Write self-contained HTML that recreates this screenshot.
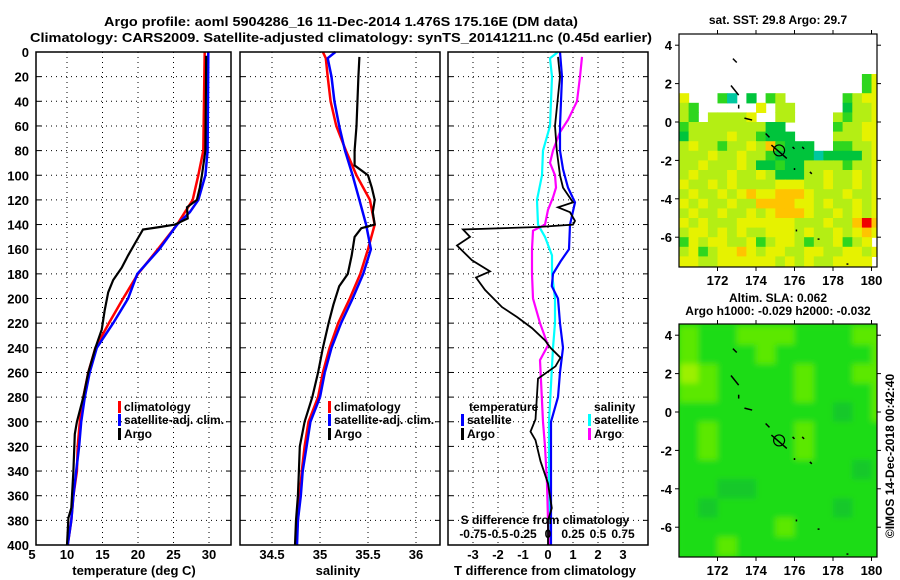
<!DOCTYPE html>
<html><head><meta charset="utf-8">
<style>
html,body{margin:0;padding:0;background:#fff;}
svg{display:block;font-family:"Liberation Sans",Arial,sans-serif;font-weight:bold;}
</style></head>
<body>
<svg id="fig" width="900" height="580" viewBox="0 0 900 580" xmlns="http://www.w3.org/2000/svg">
<text x="341" y="26" font-size="13" text-anchor="middle" textLength="474" lengthAdjust="spacingAndGlyphs">Argo profile: aoml 5904286_16 11-Dec-2014 1.476S 175.16E (DM data)</text>
<text x="341" y="42" font-size="13" text-anchor="middle" textLength="622" lengthAdjust="spacingAndGlyphs">Climatology: CARS2009. Satellite-adjusted climatology: synTS_20141211.nc (0.45d earlier)</text>
<text x="778" y="24" font-size="12" text-anchor="middle">sat. SST: 29.8 Argo: 29.7</text>
<text x="778" y="302" font-size="12" text-anchor="middle">Altim. SLA: 0.062</text>
<text x="778" y="315" font-size="12" text-anchor="middle">Argo h1000: -0.029 h2000: -0.032</text>
<text x="0" y="0" font-size="12" text-anchor="middle" transform="translate(894,456) rotate(-90)">©IMOS 14-Dec-2018 00:42:40</text>
<g id="layer"></g>
</svg>
<script>
// ---- axis ticks ----
const depthTicks=[0,20,40,60,80,100,120,140,160,180,200,220,240,260,280,300,320,340,360,380,400];
const tempTicks=[5,10,15,20,25,30];
const salTicks=[34.5,35,35.5,36];
const dTTicks=[-3,-2,-1,0,1,2,3];
const dSTicks=[-0.75,-0.5,-0.25,0,0.25,0.5,0.75];
const dSTickLabels=['-0.75','-0.5','-0.25','0','0.25','0.5','0.75'];
const lonTicks=[172,174,176,178,180];
const latTicks=[4,2,0,-2,-4,-6];
// ---- temperature profiles ----
const tClimP=[0,80,100,120,130,140,160,180,200,220,240,260,280,300,320,340,360,380,400];
const tClimV=[29.4,29.2,28.5,27.7,26.6,25.5,22.8,20,17.9,15.9,14,13,12.3,11.8,11.5,11.4,10.9,10.6,10.1];
const tSatP=[0,80,100,120,130,140,160,180,200,220,240,260,280,300,320,340,360,380,400];
const tSatV=[29.9,29.8,29.5,28.5,27.3,25.5,23,19.9,18.6,16.5,14.2,13.2,12.5,12,11.7,11.3,10.9,10.6,10.1];
const tArgoP=[3,80,100,110,120,126,135,140,142,144,155,165,175,185,195,210,225,240,260,280,300,310,340,370,378,400];
const tArgoV=[29.6,29.5,29,28.7,28.3,26.9,27,25.2,23.1,20.7,19.6,18.6,17.7,16.5,15.8,15.3,14.9,14,13,12.3,11.4,11.1,10.9,10.6,10.2,10];
// ---- salinity profiles ----
const sClimP=[0,5,20,40,60,80,100,120,140,160,180,200,220,240,260,280,300,320,340,360,380,400];
const sClimV=[35.03,35.06,35.08,35.11,35.17,35.27,35.38,35.52,35.57,35.5,35.42,35.31,35.19,35.1,35.03,34.98,34.88,34.84,34.81,34.79,34.77,34.75];
const sSatP=[0,5,20,40,60,80,100,120,140,160,180,200,220,240,260,280,300,320,340,360,380,400];
const sSatV=[35.16,35.08,35.12,35.15,35.2,35.26,35.34,35.41,35.48,35.53,35.45,35.34,35.22,35.12,35.05,35,34.9,34.86,34.82,34.8,34.77,34.76];
const sArgoP=[4,20,60,80,92,100,110,120,130,140,143,150,165,180,190,205,220,240,260,280,300,320,340,360,380,400];
const sArgoV=[35.41,35.4,35.38,35.36,35.36,35.5,35.54,35.57,35.55,35.57,35.43,35.36,35.33,35.29,35.2,35.14,35.09,35.03,34.98,34.92,34.84,34.79,34.78,34.77,34.75,34.74];
// ---- differences from climatology ----
const dTSatP=[0,20,60,80,95,110,122,140,160,170,180,190,200,220,240,260,280,300,350,400];
const dTSatV=[0.48,0.56,0.48,0.48,0.6,0.8,1.08,0.88,0.84,0.5,0.2,0.15,0.4,0.48,0.6,0.48,0.4,0.12,0.12,0.12];
const dTArgoP=[4,20,60,80,100,110,122,126,130,137,140,142,144,150,157,169,178,183,193,207,215,224,234,240,248,255,265,298,308,315,332,350,370,380,400];
const dTArgoV=[0.4,0.48,0.28,0.35,0.48,0.6,1.0,0.4,0.88,1.08,1.0,-0.4,-3.4,-3.12,-3.64,-3.04,-2.32,-2.88,-2.52,-1.84,-1.24,-0.64,-0.12,0.1,0.5,0.3,-0.4,-0.5,-0.7,-0.5,-0.3,0,0.15,0,0];
const dSSatP=[0,5,20,60,80,100,120,140,150,165,180,200,220,240,300,400];
const dSSatV=[0.1,0.02,0.04,0.02,-0.05,-0.06,-0.11,-0.1,-0.03,0.04,0.04,0.07,0.07,0.05,0.01,0.01];
const dSArgoP=[4,20,40,55,65,80,90,100,110,118,128,140,145,160,180,200,220,238,250,300,320,350,380,400];
const dSArgoV=[0.34,0.32,0.29,0.2,0.12,0.05,0.02,0.07,0.08,0.05,0,-0.03,-0.15,-0.16,-0.16,-0.15,-0.08,0,-0.08,-0.05,-0.03,-0.01,0,0.01];
// ---- SST map cells (0.5 deg; rows from lat 4.5 downward, cols from lon 170) ----
const sstRows=[
".....................",
".....................",
".....................",
".....................",
"...................gy",
"...................gy",
"y...gt.G.gl......glyy",
"lg......y.ll.....Glly",
"lg.lllly..ll....lglly",
"gllllllllGG.....gllyy",
"GllllyllgGGG....lllyy",
"lyllgllylogGGG..gglly",
"lllyllyllgGGGGtGGGGly",
"llylllylGGgGGllllglly",
"lylllyllylGGGllyllyly",
"yllylyllllyyyllyllyly",
"lyllylyoyyoooylllylly",
"ylyllyllooooyylyllyly",
"lyllyllylyoooyllylyly",
"ylylllyyyyyylllylloro",
"lyylylyllyyylyllylyoy",
"gylyyllyglyylgllygly",
"lyglyyoylyyllyyllyyly",
"yyllyyyyyylylyllyyyy."];
const sstColors={G:"#00c43c",g:"#2ed61e",l:"#b4ee14",y:"#e6f200",o:"#ffc400",r:"#f00000",t:"#00c8a0"};
// ---- SLA map cells (1 deg; rows from lat 4.5 downward, cols from lon 170) ----
const slaRows=["cbbcccbbbcc","cbbbcbbbbbc","dcbbbbcbbcc","ccbbbbcbbbc","bbbbbbbbabc","bcbbbbcbbbb","bcbbbbcbbbb","bbbbbbbbbab","bbaabbbbbbb","babbbbbbabb","bbbbbcbbbbb","bbcbbbbbbbb"];
const slaColors={a:"#12c82a",b:"#1edc14",c:"#5ce806",d:"#9cf000"};
const argoLon=175.2, argoLat=-1.48;

const NS="http://www.w3.org/2000/svg";
const layer=document.getElementById('layer');
function mk(tag,attrs,parent){const e=document.createElementNS(NS,tag);for(const k in attrs)e.setAttribute(k,attrs[k]);(parent||layer).appendChild(e);return e;}

const Y0=52,Y1=545;
const yP=p=>Y0+p*(Y1-Y0)/400;
const xT=t=>67+(t-10)*7.1;
const xS=s=>320+(s-35)*96;
const xD=d=>548+d*25;
const xDS=s=>548+s*100;

function panel(name){
  const g=mk('g',{});
  
  
  return g;
}
function grid(g,x0,x1,xs){
  depthTicks.forEach(p=>{ if(p===0||p===400)return;
    const l=mk('line',{x1:x0,x2:x1,y1:yP(p),y2:yP(p),stroke:'#000','stroke-width':1,'stroke-dasharray':'1,4'},g);
    
    
    mk('line',{x1:x0,x2:x0+5,y1:yP(p),y2:yP(p),stroke:'#000'},g);
    mk('line',{x1:x1-5,x2:x1,y1:yP(p),y2:yP(p),stroke:'#000'},g);
  });
  xs.forEach(x=>{
    const l=mk('line',{x1:x,x2:x,y1:Y0,y2:Y1,stroke:'#000','stroke-width':1,'stroke-dasharray':'1,4'},g);
    
    
  });
}
function frame(g,x0,x1){
  const r=mk('rect',{x:x0,y:Y0,width:x1-x0,height:Y1-Y0,fill:'none',stroke:'#000','stroke-width':1.5},g);
  
  
}
function line(g,P,V,xf,color,w,name){
  const d=P.map((p,i)=>(i?'L':'M')+xf(V[i]).toFixed(1)+','+yP(p).toFixed(1)).join('');
  const e=mk('path',{d:d,fill:'none',stroke:color,'stroke-width':w,'stroke-linejoin':'miter'},g);
  
  
}
function text(g,x,y,s,anchor,size,name){
  const e=mk('text',{x:x,y:y,'font-size':size||12,'text-anchor':anchor||'start'},g);
  e.textContent=s;
  
  
  return e;
}
function legend(g,x,y,color,label,name){
  const m=mk('rect',{x:x,y:y-10,width:3,height:12,fill:color},g);
  
  
  text(g,x+6,y,label,'start',12,name+'-label');
}

// Panel 1: temperature
const g1=panel('temperature-panel');
grid(g1,36,231,tempTicks.filter(t=>t>5).map(xT));
line(g1,tClimP,tClimV,xT,'#ff0000',2.5,'temperature-climatology-line');
line(g1,tSatP,tSatV,xT,'#0000ff',2.5,'temperature-satellite-line');
line(g1,tArgoP,tArgoV,xT,'#000',2.2,'temperature-argo-line');
frame(g1,36,231);
depthTicks.forEach(p=>text(g1,29,yP(p)+5,String(p),'end',13,'depth-tick-label'));
tempTicks.forEach(t=>text(g1,Math.max(xT(t),32),559,String(t),'middle',13,'temperature-tick-label'));
text(g1,134,575,'temperature (deg C)','middle',13,'temperature-axis-title');
legend(g1,118,411,'#ff0000','climatology','temp-legend-climatology');
legend(g1,118,424,'#0000ff','satellite-adj. clim.','temp-legend-satellite');
legend(g1,118,438,'#000','Argo','temp-legend-argo');

// Panel 2: salinity
const g2=panel('salinity-panel');
grid(g2,240,440,salTicks.map(xS));
line(g2,sClimP,sClimV,xS,'#ff0000',2.5,'salinity-climatology-line');
line(g2,sSatP,sSatV,xS,'#0000ff',2.5,'salinity-satellite-line');
line(g2,sArgoP,sArgoV,xS,'#000',2.2,'salinity-argo-line');
frame(g2,240,440);
salTicks.forEach(s=>text(g2,xS(s),559,String(s),'middle',13,'salinity-tick-label'));
text(g2,338,575,'salinity','middle',13,'salinity-axis-title');
legend(g2,328,411,'#ff0000','climatology','sal-legend-climatology');
legend(g2,328,424,'#0000ff','satellite-adj. clim.','sal-legend-satellite');
legend(g2,328,438,'#000','Argo','sal-legend-argo');

// Panel 3: differences
const g3=panel('difference-panel');
grid(g3,448,648,dTTicks.map(xD));
line(g3,dSSatP,dSSatV,xDS,'#00ffff',2.2,'salinity-diff-satellite-line');
line(g3,dSArgoP,dSArgoV,xDS,'#ff00ff',2.2,'salinity-diff-argo-line');
line(g3,dTSatP,dTSatV,xD,'#0000ff',2.2,'temperature-diff-satellite-line');
line(g3,dTArgoP,dTArgoV,xD,'#000',1.8,'temperature-diff-argo-line');
frame(g3,448,648);
dTTicks.forEach(d=>text(g3,xD(d),559,String(d),'middle',13,'t-diff-tick-label'));
text(g3,545,575,'T difference from climatology','middle',13,'t-diff-axis-title');
text(g3,545,524,'S difference from climatology','middle',12,'s-diff-axis-title');
dSTicks.forEach((s,i)=>text(g3,xDS(s),538,dSTickLabels[i],'middle',12,'s-diff-tick-label'));
text(g3,469,411,'temperature','start',12,'diff-legend-temperature-header');
legend(g3,461,424,'#0000ff','satellite','diff-legend-t-satellite');
legend(g3,461,438,'#000','Argo','diff-legend-t-argo');
text(g3,594,411,'salinity','start',12,'diff-legend-salinity-header');
legend(g3,588,424,'#00ffff','satellite','diff-legend-s-satellite');
legend(g3,588,438,'#ff00ff','Argo','diff-legend-s-argo');

// Maps
const lonX=l=>679+(l-170)*19.25;
function mapPanel(name,top,latY,rows,colors,cell,blur){
  const g=panel(name);
  const cid='clip-'+name;
  const cp=mk('clipPath',{id:cid},g);
  mk('rect',{x:679,y:top,width:198,height:233},cp);
  const cells=mk('g',{'clip-path':'url(#'+cid+')'},g);
  if(blur){
    const f=mk('filter',{id:'blur-'+name,x:'-10%',y:'-10%',width:'120%',height:'120%'},g);
    mk('feGaussianBlur',{stdDeviation:blur},f);
    mk('rect',{x:679,y:top,width:198,height:233,fill:colors.b},cells);
  }
  const inner=mk('g',blur?{filter:'url(#blur-'+name+')'}:{},cells);
  rows.forEach((row,r)=>{
    for(let c=0;c<row.length;c++){
      const ch=row[c]; if(!colors[ch])continue;
      const lat=4.5-cell*r, lon=170+cell*c;
      const rc=mk('rect',{x:lonX(lon).toFixed(1),y:latY(lat).toFixed(1),width:(cell*19.25+0.6).toFixed(1),height:(cell*19.2+0.6).toFixed(1),fill:colors[ch]},inner);
      
      
    }
  });
  const isl=[[172.8,3.3,173,3.1],[172.7,1.9,173.1,1.4],[173.1,0.9,173.1,0.7],[173.4,0.2,173.8,0.1],[174.5,-0.6,174.7,-0.8],[174.8,-1.2,175.6,-1.9],[175.9,-1.3,176.0,-1.4],[176.4,-1.3,176.5,-1.4],[176.8,-2.6,176.9,-2.7],[176,-2.4,176,-2.5],[176.1,-5.6,176.1,-5.7],[177.2,-6.1,177.3,-6.1],[178.7,-7.4,178.8,-7.4]];
  isl.forEach(s=>{
    const e=mk('line',{x1:lonX(s[0]),y1:latY(s[1]),x2:lonX(s[2]),y2:latY(s[3]),stroke:'#000','stroke-width':1.5},g);
    
    
  });
  const c=mk('circle',{cx:lonX(argoLon),cy:latY(argoLat),r:5.5,fill:'none',stroke:'#000','stroke-width':1.2},g);
  
  
  const r=mk('rect',{x:679,y:top,width:198,height:233,fill:'none',stroke:'#000','stroke-width':1.2},g);
  
  
  latTicks.forEach(l=>{
    mk('line',{x1:675,x2:679,y1:latY(l),y2:latY(l),stroke:'#000'},g);
    mk('line',{x1:877,x2:881,y1:latY(l),y2:latY(l),stroke:'#000'},g);
    text(g,672,latY(l)+5,String(l),'end',13,'latitude-tick-label');
  });
  lonTicks.forEach(l=>{
    mk('line',{x1:lonX(l),x2:lonX(l),y1:top-4,y2:top,stroke:'#000'},g);
    mk('line',{x1:lonX(l),x2:lonX(l),y1:top+233,y2:top+237,stroke:'#000'},g);
    text(g,lonX(l),top+251,String(l),'middle',13,'longitude-tick-label');
  });
}
mapPanel('sst-map',34,l=>122-l*19.2,sstRows,sstColors,0.5,0);
mapPanel('sla-map',324,l=>412-l*19.2,slaRows,slaColors,1,3);
</script>
</body></html>
